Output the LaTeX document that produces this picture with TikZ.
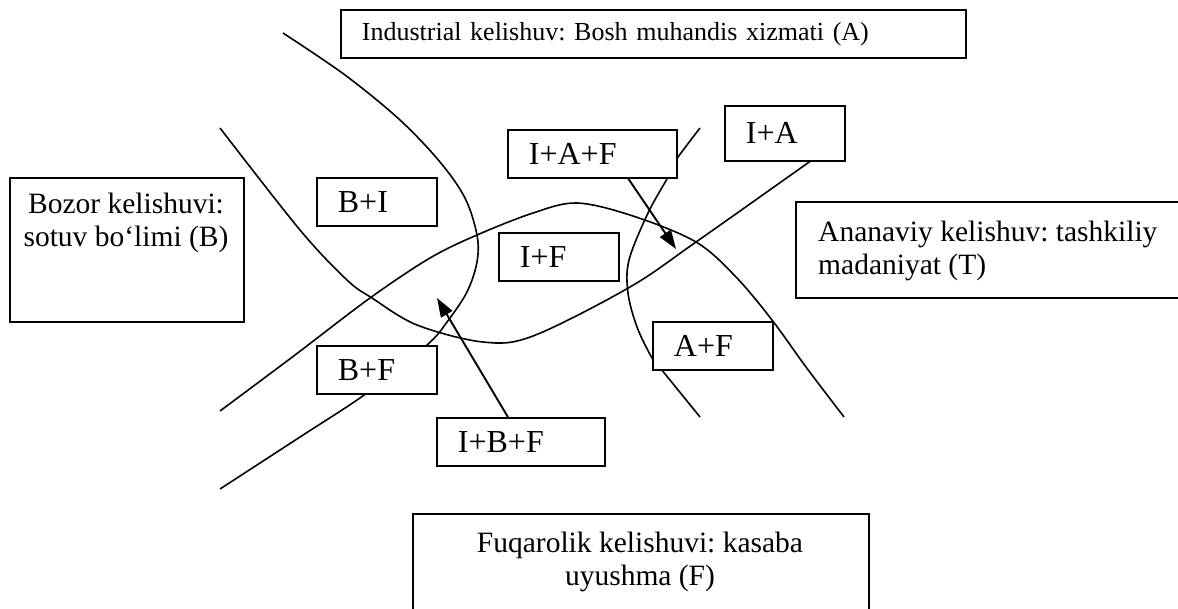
\documentclass[tikz,border=0pt]{standalone}
\usepackage{fontspec}
\setmainfont{Liberation Serif}
\usetikzlibrary{arrows.meta}
\begin{document}
\frenchspacing
\begin{tikzpicture}[x=1pt,y=-1pt,
  curve/.style={line width=1.6pt, line join=round},
  box/.style={draw, line width=1.8pt, fill=white, inner sep=0pt},
  lbl/.style={box, minimum height=48pt, align=left, inner xsep=21pt, inner ysep=0pt, text width=78pt, anchor=north west, font=\fontsize{32}{38}\selectfont},
  bigtxt/.style={font=\fontsize{29.5}{33}\selectfont, inner sep=0pt},
  arr/.style={line width=1.9pt, -{Triangle[length=19pt,width=13pt]}}]
\useasboundingbox (0,0) rectangle (1178,608);
\fill[white] (0,0) rectangle (1178,608);
% boundary curves
\draw[curve] plot[smooth, tension=0.55] coordinates {(283,33) (345,75) (400,120) (440,162) (465,198) (477,235) (477,262) (467,292) (447,322) (427,345) (367,393) (300,437) (220,489)};
\draw[curve] plot[smooth, tension=0.55] coordinates {(220,128) (300,230) (347,280) (372,298) (417,325) (483,342) (533,336) (630,287) (696,242) (812,160)};
\draw[curve] plot[smooth, tension=0.55] coordinates {(220,411) (295,355) (370,298) (430,258) (477,235) (533,213) (577,203) (633,216) (696,242) (736,277) (772,320) (806,367) (844,417)};
\draw[curve] plot[smooth, tension=0.55] coordinates {(700,128) (676,160) (668,177) (648,213) (629,260) (628,293) (637,327) (652,358) (661,369) (700,417)};
% big boxes
\node[box, minimum width=625pt, minimum height=48pt, anchor=north west, align=left, inner xsep=21pt, text width=583pt, font=\fontsize{26}{30}\selectfont] (A) at (340,9) {Industrial kelishuv: Bosh muhandis xizmati (A)};
\node[box, minimum width=234pt, minimum height=144pt, anchor=north west] (B) at (9,177) {};
\node[bigtxt, anchor=north, align=center] (Btxt) at (126,193) {Bozor kelishuvi:\\sotuv bo‘limi (B)};
\node[box, minimum width=400pt, minimum height=96pt, anchor=north west] (T) at (795,201) {};
\node[bigtxt, anchor=north west, align=left] (Ttxt) at (818,221) {Ananaviy kelishuv: tashkiliy\\madaniyat (T)};
\node[box, minimum width=456pt, minimum height=110pt, anchor=north west] (F) at (412,513) {};
\node[bigtxt, anchor=north, align=center] (Ftxt) at (640,532) {Fuqarolik kelishuvi: kasaba\\uyushma (F)};
% intersection labels
\node[lbl] (BI) at (316,177) {B+I};
\node[lbl, text width=127pt] (IAF) at (507,129) {I+A+F};
\node[lbl] (IF) at (498,232) {I+F};
\node[lbl, minimum height=55pt] (IA) at (724,105) {I+A};
\node[lbl] (AF) at (652,321) {A+F};
\node[lbl] (BF) at (316,345) {B+F};
\node[lbl, text width=126pt] (IBF) at (436,417) {I+B+F};
% arrows
\coordinate (t1) at (676,249);
\coordinate (t2) at (437,298);
\draw[arr] ([xshift=36pt]IAF.south) -- (t1);
\draw[arr] ([xshift=-13pt]IBF.north) -- (t2);
\end{tikzpicture}
\end{document}
